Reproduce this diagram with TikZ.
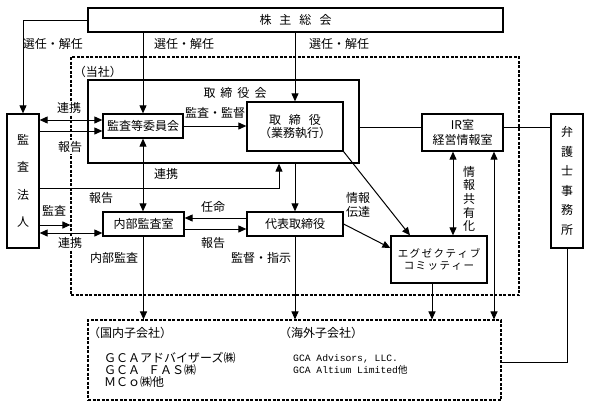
\documentclass[tikz,border=0pt]{standalone}
\usepackage{fontspec}
\setmainfont{Noto Sans CJK JP}
\newfontfamily\latinmono{Liberation Mono}
\usetikzlibrary{arrows.meta}
\begin{document}
\begin{tikzpicture}[x=1pt,y=-1pt,
  font=\fontsize{12}{13.7}\selectfont,
  box/.style={draw, line width=1.3pt, inner sep=0pt, align=center},
  dbox/.style={draw, line width=1.1pt, dash pattern=on 3pt off 1.5pt, inner sep=0pt},
  conn/.style={line width=1pt},
  arr/.style={conn, -{Triangle[length=8pt,width=7pt]}},
  darr/.style={conn, {Triangle[length=8pt,width=7pt]}-{Triangle[length=8pt,width=7pt]}},
  lbl/.style={inner sep=1pt},
  wlbl/.style={inner sep=1pt, fill=white},
]
\useasboundingbox (0,0) rectangle (590,407);
% helper coordinates
\coordinate (y120) at (0,120);
\coordinate (y127) at (0,127);
\coordinate (y131) at (0,131);
\coordinate (y188) at (0,188);
\coordinate (y218) at (0,218);
\coordinate (y225) at (0,225);
\coordinate (y229) at (0,229);
\coordinate (y233) at (0,233);
\coordinate (y248) at (0,248);
\coordinate (y362) at (0,362);
\coordinate (x279) at (279,0);
\coordinate (x410) at (410,0);
\coordinate (x432) at (432,0);
\coordinate (x453) at (453,0);
\coordinate (x494) at (494,0);

% dashed groups
\node[dbox, minimum width=448, minimum height=238] (company) at (295,176) {};
\node[dbox, minimum width=413, minimum height=80] (sub) at (294.5,360) {};

% boxes
\node[box, minimum width=415, minimum height=24] (gm) at (295.5,20) {株\hspace{8pt}主\hspace{8pt}総\hspace{8pt}会};
\node[box, minimum width=32, minimum height=134, font=\fontsize{12}{27.5}\selectfont] (kansa) at (23,181) {監\\査\\法\\人};
\node[box, minimum width=271, minimum height=83] (board) at (223.5,121.5) {};
\node[lbl] (boardlbl) at (235,93) {取\hspace{5pt}締\hspace{5pt}役\hspace{5pt}会};
\node[box, minimum width=80, minimum height=24] (iinkai) at (143,126) {監査等委員会};
\node[box, minimum width=96, minimum height=49, font=\fontsize{12}{13.5}\selectfont] (director) at (295,126.5) {取\hspace{8pt}締\hspace{8pt}役\\（業務執行）};
\node[box, minimum width=81, minimum height=37, font=\fontsize{12}{15}\selectfont] (ir) at (462.5,132.5) {IR室\\経営情報室};
\node[box, minimum width=32, minimum height=134, font=\fontsize{12}{19.6}\selectfont] (lawyer) at (567,181) {弁\\護\\士\\事\\務\\所};
\node[box, minimum width=81, minimum height=24] (naibu) at (143.5,224) {内部監査室};
\node[box, minimum width=96, minimum height=24] (daihyo) at (295,224) {代表取締役};
\node[box, minimum width=96, minimum height=47, font=\fontsize{10.5}{12.5}\selectfont] (exec) at (439,259.5) {エ\hspace{1.5pt}グ\hspace{1.5pt}ゼ\hspace{1.5pt}ク\hspace{1.5pt}テ\hspace{1.5pt}ィ\hspace{1.5pt}ブ\\コ\hspace{1.5pt}ミ\hspace{1.5pt}ッ\hspace{1.5pt}テ\hspace{1.5pt}ィ\hspace{1.5pt}ー};

% connectors
\draw[arr] (gm.west) -| (kansa.north);
\draw[arr] (gm.south -| iinkai.north) -- (iinkai.north);
\draw[arr] (gm.south -| director.north) -- (director.north);
\draw[darr] (kansa.east |- y120) -- (iinkai.west |- y120);
\draw[arr] (kansa.east |- y131) -- (iinkai.west |- y131);
\draw[arr] (iinkai.east) -- (director.west |- iinkai.east);
\draw[conn] (board.east |- y127) -- (ir.west |- y127);
\draw[conn] (ir.east |- y127) -- (lawyer.west |- y127);
\draw[arr] (kansa.east |- y188) -| (x279 |- board.south);
\draw[darr] (iinkai.south) -- (iinkai.south |- naibu.north);
\draw[arr] (kansa.east |- y225) -- (company.west |- y225);
\draw[darr] (kansa.east |- y233) -- (naibu.west |- y233);
\draw[arr] (daihyo.west |- y218) -- (naibu.east |- y218);
\draw[arr] (naibu.east |- y229) -- (daihyo.west |- y229);
\draw[arr] (director.south |- board.south) -- (daihyo.north);
\draw[arr] (naibu.south) -- (naibu.south |- sub.north);
\draw[arr] (daihyo.south) -- (daihyo.south |- sub.north);
\draw[arr] (director.south east) -- (x410 |- exec.north);
\draw[arr] (daihyo.east) -- (exec.west |- y248);
\draw[darr] (x453 |- ir.south) -- (x453 |- exec.north);
\draw[darr] (x494 |- sub.north) -- (x494 |- ir.south);
\draw[arr] (x432 |- exec.south) -- (x432 |- sub.north);
\draw[conn] (lawyer.south) |- (sub.east |- y362);

% labels
\node[lbl] (l1) at (53,44) {選任・解任};
\node[lbl] (l2) at (184,44) {選任・解任};
\node[lbl] (l3) at (339,44) {選任・解任};
\node[lbl] (tousha) at (98,72) {（当社）};
\node[wlbl] (l4) at (69,108) {連携};
\node[wlbl] (l5) at (70,147) {報告};
\node[lbl] (l6) at (215,113) {監査・監督};
\node[lbl] (l7) at (166,174) {連携};
\node[lbl] (l8) at (101,198) {報告};
\node[lbl] (l9) at (54,211) {監査};
\node[wlbl] (l10) at (70,243) {連携};
\node[lbl] (l11) at (213,207) {任命};
\node[lbl] (l12) at (213,243) {報告};
\node[lbl] (l13) at (114,258) {内部監査};
\node[lbl] (l14) at (261,258) {監督・指示};
\node[lbl, align=center, font=\fontsize{12}{14}\selectfont] (l15) at (358,205) {情報\\伝達};
\node[lbl, align=center, font=\fontsize{12}{13.7}\selectfont] (l16) at (469,199) {情\\報\\共\\有\\化};

% subsidiaries
\node[anchor=west, inner sep=0pt] (dom) at (88,333) {（国内子会社）};
\node[anchor=west, inner sep=0pt] (ovs) at (279,333) {（海外子会社）};
\node[anchor=west, inner sep=0pt, align=left, font=\fontsize{12}{12}\selectfont] (domlist) at (104,370) {ＧＣＡアドバイザーズ㈱\\ＧＣＡ\hspace{8pt}ＦＡＳ㈱\\ＭＣｏ㈱他};
\node[anchor=west, inner sep=0pt, align=left, font=\fontsize{9.7}{12}\selectfont] (ovslist) at (293,364) {{\latinmono GCA Advisors, LLC.}\\{\latinmono GCA Altium Limited}他};
\end{tikzpicture}
\end{document}
